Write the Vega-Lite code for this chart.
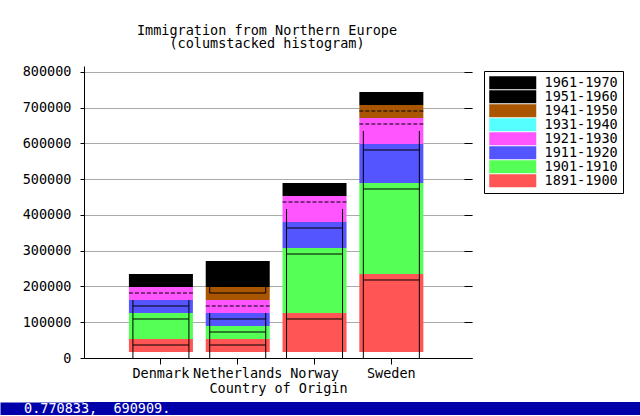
{
  "$schema": "https://vega.github.io/schema/vega-lite/v6.json",
  "background": "white",
  "padding": {"top": 24, "left": 0, "right": 0, "bottom": 0},
  "spacing": 6,
  "config": {
    "font": "DejaVu Sans Mono",
    "view": {"stroke": null},
    "axis": {
      "labelFont": "DejaVu Sans Mono", "titleFont": "DejaVu Sans Mono",
      "labelFontSize": 13.5, "titleFontSize": 13.5, "labelColor": "black", "titleColor": "black",
      "titleFontWeight": "normal", "domainColor": "black", "tickColor": "black"
    },
    "title": {"font": "DejaVu Sans Mono", "fontSize": 13.5, "fontWeight": "normal", "color": "black"}
  },
  "datasets": {
    "bars": [
      {"country": "Denmark", "period": "1891-1900", "lo": 16800, "hi": 53100},
      {"country": "Denmark", "period": "1901-1910", "lo": 53100, "hi": 125800},
      {"country": "Denmark", "period": "1911-1920", "lo": 125800, "hi": 162100},
      {"country": "Denmark", "period": "1921-1930", "lo": 162100, "hi": 198400},
      {"country": "Denmark", "period": "1951-1960", "lo": 198400, "hi": 218000},
      {"country": "Denmark", "period": "1961-1970", "lo": 218000, "hi": 234700},
      {"country": "Netherlands", "period": "1891-1900", "lo": 16800, "hi": 53100},
      {"country": "Netherlands", "period": "1901-1910", "lo": 53100, "hi": 89400},
      {"country": "Netherlands", "period": "1911-1920", "lo": 89400, "hi": 125800},
      {"country": "Netherlands", "period": "1921-1930", "lo": 125800, "hi": 162100},
      {"country": "Netherlands", "period": "1941-1950", "lo": 162100, "hi": 198400},
      {"country": "Netherlands", "period": "1951-1960", "lo": 198400, "hi": 243100},
      {"country": "Netherlands", "period": "1961-1970", "lo": 243100, "hi": 271100},
      {"country": "Norway", "period": "1891-1900", "lo": 16800, "hi": 125800},
      {"country": "Norway", "period": "1901-1910", "lo": 125800, "hi": 307400},
      {"country": "Norway", "period": "1911-1920", "lo": 307400, "hi": 380100},
      {"country": "Norway", "period": "1921-1930", "lo": 380100, "hi": 452700},
      {"country": "Norway", "period": "1951-1960", "lo": 452700, "hi": 469500},
      {"country": "Norway", "period": "1961-1970", "lo": 469500, "hi": 489000},
      {"country": "Sweden", "period": "1891-1900", "lo": 16800, "hi": 234700},
      {"country": "Sweden", "period": "1901-1910", "lo": 234700, "hi": 489000},
      {"country": "Sweden", "period": "1911-1920", "lo": 489000, "hi": 598000},
      {"country": "Sweden", "period": "1921-1930", "lo": 598000, "hi": 670700},
      {"country": "Sweden", "period": "1941-1950", "lo": 670700, "hi": 707000},
      {"country": "Sweden", "period": "1951-1960", "lo": 707000, "hi": 723800},
      {"country": "Sweden", "period": "1961-1970", "lo": 723800, "hi": 743300}
    ],
    "vlines": [
      {"country": "Denmark", "lo": 0, "hi": 162100},
      {"country": "Netherlands", "lo": 0, "hi": 125800},
      {"country": "Netherlands", "lo": 181600, "hi": 198400},
      {"country": "Norway", "lo": 0, "hi": 416400},
      {"country": "Sweden", "lo": 0, "hi": 634400}
    ],
    "hsolid": [
      {"country": "Denmark", "v": 36300},
      {"country": "Denmark", "v": 109000},
      {"country": "Denmark", "v": 145300},
      {"country": "Netherlands", "v": 36300},
      {"country": "Netherlands", "v": 72700},
      {"country": "Netherlands", "v": 109000},
      {"country": "Netherlands", "v": 181600},
      {"country": "Norway", "v": 109000},
      {"country": "Norway", "v": 290600},
      {"country": "Norway", "v": 363300},
      {"country": "Sweden", "v": 218000},
      {"country": "Sweden", "v": 472300},
      {"country": "Sweden", "v": 581300}
    ],
    "hdash": [
      {"country": "Denmark", "v": 181600},
      {"country": "Netherlands", "v": 145300},
      {"country": "Norway", "v": 435900},
      {"country": "Sweden", "v": 653900},
      {"country": "Sweden", "v": 690200}
    ],
    "status": [
      {"label": "0.770833, \u00a0690909.", "y": 0}
    ]
  },
  "vconcat": [
    {
      "title": {
        "text": ["Immigration from Northern Europe", "(columstacked histogram)"],
        "anchor": "middle", "dx": -11, "offset": 14, "lineHeight": 13
      },
      "width": 388,
      "height": 292,
      "resolve": {"axis": {"y": "independent"}},
      "layer": [
        {
          "data": {"name": "bars"},
          "mark": {"type": "bar"},
          "encoding": {
            "x": {
              "field": "country", "type": "nominal",
              "sort": ["Denmark", "Netherlands", "Norway", "Sweden"],
              "scale": {"paddingInner": 0.1667, "paddingOuter": 0.609, "align": 0.48},
              "axis": {"title": "Country of Origin", "labelAngle": 0, "tickSize": 6, "labelPadding": 2, "labelOverlap": false, "titlePadding": 2}
            },
            "y": {
              "field": "lo", "type": "quantitative",
              "scale": {"domain": [0, 816000], "nice": false},
              "axis": {
                "title": null, "orient": "left",
                "values": [0, 100000, 200000, 300000, 400000, 500000, 600000, 700000, 800000],
                "format": "d", "grid": true, "gridColor": "#AAAAAA", "tickSize": 4, "labelPadding": 9,
                "minExtent": 84, "maxExtent": 84
              }
            },
            "y2": {"field": "hi"},
            "color": {
              "field": "period", "type": "nominal",
              "scale": {
                "domain": ["1961-1970", "1951-1960", "1941-1950", "1931-1940", "1921-1930", "1911-1920", "1901-1910", "1891-1900"],
                "range": ["#000000", "#000000", "#AA5500", "#55FFFF", "#FF55FF", "#5555FF", "#55FF55", "#FF5555"]
              },
              "legend": {
                "orient": "none", "legendX": 400, "legendY": 5, "title": null,
                "strokeColor": "black", "padding": 5,
                "symbolType": "M-3.616,-1H3.616V1H-3.616Z", "symbolSize": 169,
                "symbolStrokeWidth": 0, "symbolOpacity": 1, "symbolOffset": 17, "labelOffset": 25,
                "rowPadding": -2, "labelFontSize": 13.5, "labelFont": "DejaVu Sans Mono", "labelColor": "black"
              }
            }
          }
        },
        {
          "data": {"name": "vlines"},
          "mark": {"type": "rule", "color": "black", "strokeWidth": 1},
          "encoding": {
            "x": {"field": "country", "type": "nominal", "bandPosition": 0.0625},
            "y": {
              "field": "lo", "type": "quantitative",
              "axis": {
                "orient": "right", "labels": false, "domain": false, "grid": false, "title": null,
                "tickSize": -8, "values": [0, 100000, 200000, 300000, 400000, 500000, 600000, 700000, 800000]
              }
            },
            "y2": {"field": "hi"}
          }
        },
        {
          "data": {"name": "vlines"},
          "mark": {"type": "rule", "color": "black", "strokeWidth": 1},
          "encoding": {
            "x": {"field": "country", "type": "nominal", "bandPosition": 0.9375},
            "y": {"field": "lo", "type": "quantitative", "axis": null},
            "y2": {"field": "hi"}
          }
        },
        {
          "data": {"name": "hsolid"},
          "mark": {"type": "rule", "color": "black", "strokeWidth": 1},
          "encoding": {
            "x": {"field": "country", "type": "nominal", "bandPosition": 0.0625},
            "x2": {"field": "country", "bandPosition": 0.9375},
            "y": {"field": "v", "type": "quantitative", "axis": null}
          }
        },
        {
          "data": {"name": "hdash"},
          "mark": {"type": "rule", "color": "black", "strokeWidth": 1, "strokeDash": [4, 2]},
          "encoding": {
            "x": {"field": "country", "type": "nominal", "bandPosition": 0},
            "x2": {"field": "country", "bandPosition": 1},
            "y": {"field": "v", "type": "quantitative", "axis": null}
          }
        }
      ]
    },
    {
      "width": 556,
      "height": 13,
      "view": {"fill": "#0000AA", "stroke": null},
      "data": {"name": "status"},
      "mark": {"type": "text", "align": "left", "baseline": "middle", "dx": -338, "color": "white", "font": "DejaVu Sans Mono", "fontSize": 13.5},
      "encoding": {
        "text": {"field": "label", "type": "nominal"},
        "y": {"field": "y", "type": "nominal", "axis": {
          "orient": "left", "title": null, "labels": false, "ticks": false,
          "domain": true, "domainColor": "#0000AA", "domainWidth": 84, "domainCap": "butt",
          "offset": 42, "minExtent": 0, "maxExtent": 0
        }}
      }
    }
  ]
}
